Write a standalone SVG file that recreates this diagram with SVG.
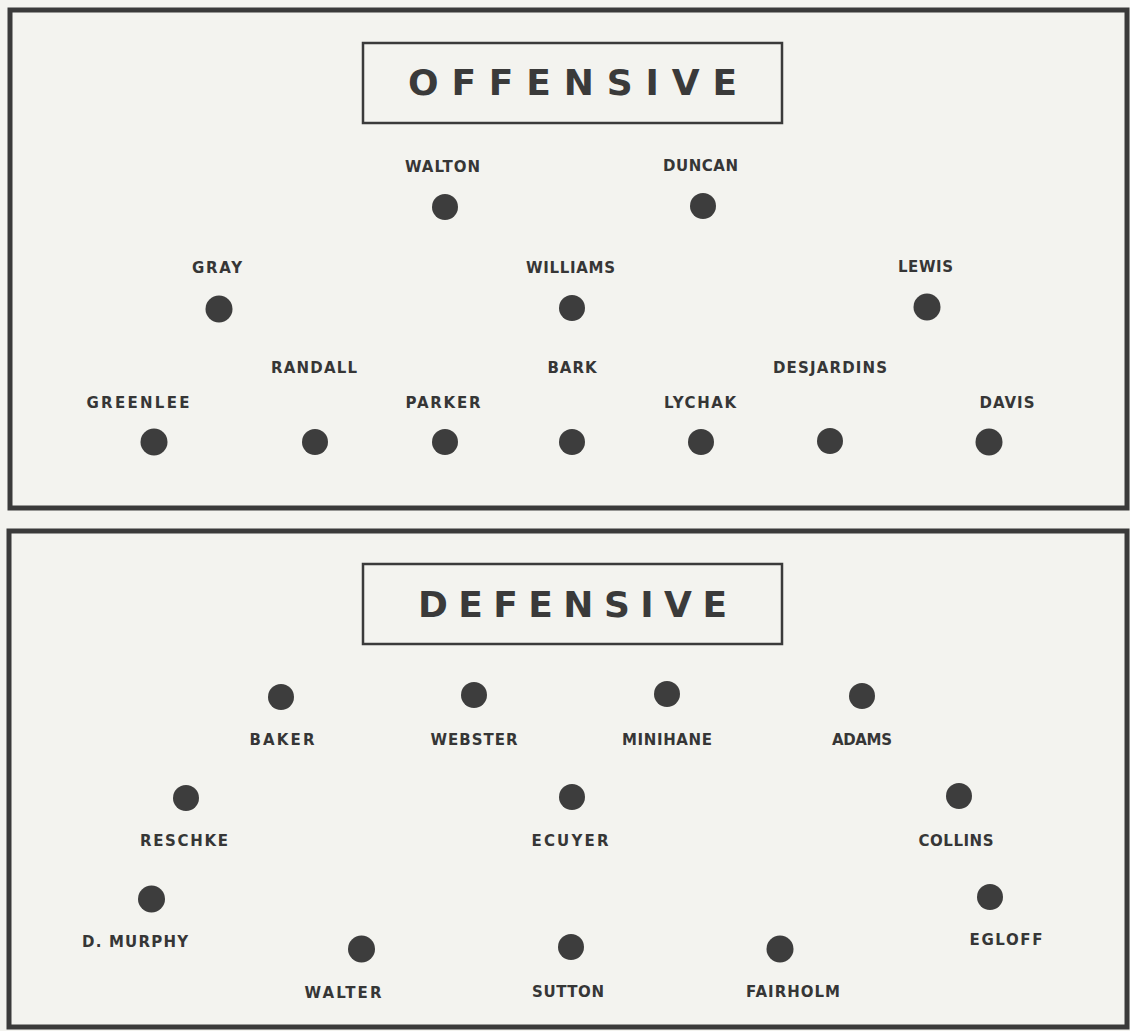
<svg xmlns="http://www.w3.org/2000/svg" width="1130" height="1031" viewBox="0 0 1130 1031">
<style>
.bg{fill:#f3f3ef}
.panel{fill:none;stroke:#3a3a3a;stroke-width:5}
.tbox{fill:none;stroke:#3a3a3a;stroke-width:2.5}
.title{font-family:"DejaVu Sans",sans-serif;font-weight:bold;font-size:36px;fill:#3a3a3a}
.dot{fill:#3d3d3d}
.lbl{font-family:"DejaVu Sans",sans-serif;font-weight:bold;font-size:15px;fill:#363636;text-anchor:middle}
</style>
<rect class="bg" x="0" y="0" width="1130" height="1031"/>
<g id="panels">
<rect class="panel" x="10" y="10" width="1117" height="498"/>
<rect class="panel" x="9" y="531" width="1118" height="496"/>
</g>
<g id="title-offensive">
<rect class="tbox" x="363" y="43" width="419" height="80"/>
<text class="title" x="408" y="95" textLength="329" lengthAdjust="spacing">OFFENSIVE</text>
</g>
<g id="title-defensive">
<rect class="tbox" x="363" y="564" width="419" height="80"/>
<text class="title" x="418" y="617" textLength="309" lengthAdjust="spacing">DEFENSIVE</text>
</g>
<g id="connectors"/>
<g id="offense">
<g id="walton"><circle class="dot" cx="445" cy="207" r="13"/><text class="lbl" x="442.5" y="172" textLength="75">WALTON</text></g>
<g id="duncan"><circle class="dot" cx="703" cy="206" r="13"/><text class="lbl" x="700.5" y="171" textLength="75">DUNCAN</text></g>
<g id="gray"><circle class="dot" cx="219" cy="309" r="13.5"/><text class="lbl" x="217" y="273" textLength="50">GRAY</text></g>
<g id="williams"><circle class="dot" cx="572" cy="308" r="13"/><text class="lbl" x="570.5" y="273" textLength="89">WILLIAMS</text></g>
<g id="lewis"><circle class="dot" cx="927" cy="307" r="13.5"/><text class="lbl" x="925.5" y="272" textLength="55">LEWIS</text></g>
<g id="randall"><circle class="dot" cx="315" cy="442" r="13"/><text class="lbl" x="314" y="373" textLength="86">RANDALL</text></g>
<g id="bark"><circle class="dot" cx="572" cy="442" r="13"/><text class="lbl" x="572" y="373" textLength="49">BARK</text></g>
<g id="desjardins"><circle class="dot" cx="830" cy="441" r="13"/><text class="lbl" x="830" y="373" textLength="114">DESJARDINS</text></g>
<g id="greenlee"><circle class="dot" cx="154" cy="442" r="13.5"/><text class="lbl" x="138" y="408" textLength="103">GREENLEE</text></g>
<g id="parker"><circle class="dot" cx="445" cy="442" r="13"/><text class="lbl" x="443" y="408" textLength="75">PARKER</text></g>
<g id="lychak"><circle class="dot" cx="701" cy="442" r="13"/><text class="lbl" x="700" y="408" textLength="72">LYCHAK</text></g>
<g id="davis"><circle class="dot" cx="989" cy="442" r="13.5"/><text class="lbl" x="1007" y="408" textLength="55">DAVIS</text></g>
</g>
<g id="defense">
<g id="baker"><circle class="dot" cx="281" cy="697" r="13"/><text class="lbl" x="282" y="745" textLength="65">BAKER</text></g>
<g id="webster"><circle class="dot" cx="474" cy="695" r="13"/><text class="lbl" x="474" y="745" textLength="87">WEBSTER</text></g>
<g id="minihane"><circle class="dot" cx="667" cy="694" r="13"/><text class="lbl" x="667" y="745" textLength="90">MINIHANE</text></g>
<g id="adams"><circle class="dot" cx="862" cy="696" r="13"/><text class="lbl" x="862" y="745" textLength="60">ADAMS</text></g>
<g id="reschke"><circle class="dot" cx="186" cy="798" r="13"/><text class="lbl" x="184" y="846" textLength="88">RESCHKE</text></g>
<g id="ecuyer"><circle class="dot" cx="572" cy="797" r="13"/><text class="lbl" x="570" y="846" textLength="77">ECUYER</text></g>
<g id="collins"><circle class="dot" cx="959" cy="796" r="13"/><text class="lbl" x="956" y="846" textLength="75">COLLINS</text></g>
<g id="d-murphy"><circle class="dot" cx="151.5" cy="899" r="13.5"/><text class="lbl" x="135" y="947" textLength="106">D. MURPHY</text></g>
<g id="egloff"><circle class="dot" cx="990" cy="897" r="13"/><text class="lbl" x="1006" y="945" textLength="73">EGLOFF</text></g>
<g id="walter"><circle class="dot" cx="361.5" cy="949" r="13.5"/><text class="lbl" x="343" y="998" textLength="77">WALTER</text></g>
<g id="sutton"><circle class="dot" cx="571" cy="947" r="13"/><text class="lbl" x="568" y="997" textLength="72">SUTTON</text></g>
<g id="fairholm"><circle class="dot" cx="780" cy="949" r="13.5"/><text class="lbl" x="793" y="997" textLength="94">FAIRHOLM</text></g>
</g>
</svg>
